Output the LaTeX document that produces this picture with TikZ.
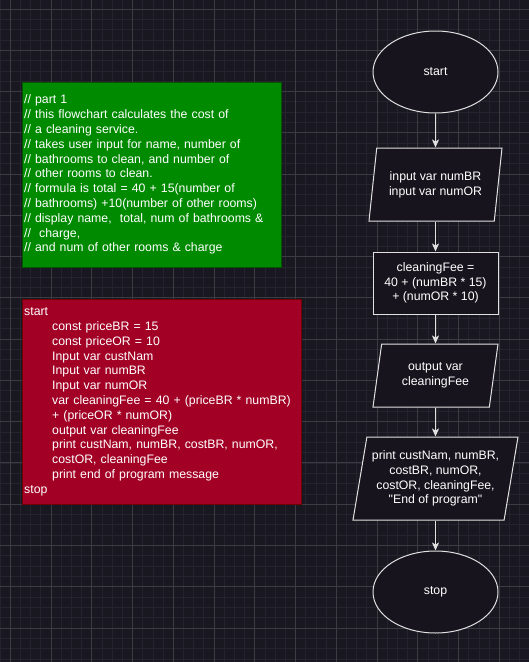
\documentclass[tikz,border=0pt]{standalone}
\usepackage{fontspec}
\setmainfont{Liberation Sans}[Ligatures=TeXOff]
\usetikzlibrary{arrows.meta,shapes.geometric}

\definecolor{canvas}{RGB}{25,23,32}
\definecolor{gridmin}{RGB}{37,35,45}
\definecolor{gridmaj}{RGB}{60,58,67}
\definecolor{cmtgreen}{RGB}{0,138,0}
\definecolor{cmtedge}{RGB}{0,87,0}
\definecolor{codered}{RGB}{162,0,37}
\definecolor{codeedge}{RGB}{111,0,0}
\definecolor{shapefill}{RGB}{24,20,29}
\definecolor{shapeline}{RGB}{225,225,225}

\newcommand{\codeind}{\hspace*{28pt}}

\begin{document}
\begin{tikzpicture}[
    x=1pt, y=-1pt,
    font=\fontsize{12.3}{14.8}\selectfont,
    gridminor/.style={gridmin, line width=0.8pt},
    gridmajor/.style={gridmaj, line width=1pt},
    cmt/.style={draw=cmtedge, fill=cmtgreen, text=white, align=left,
                anchor=north west, inner xsep=2pt, inner ysep=0pt},
    code/.style={draw=codeedge, fill=codered, text=white, align=left,
                 anchor=north west, inner xsep=2pt, inner ysep=0pt},
    term/.style={ellipse, draw=shapeline, fill=shapefill, text=white,
                 line width=1pt, minimum width=125pt, minimum height=82pt},
    io/.style={trapezium, trapezium stretches body=true, draw=shapeline,
               fill=shapefill, text=white, align=center, inner sep=1pt,
               line width=1pt},
    proc/.style={rectangle, draw=shapeline, fill=shapefill, text=white,
                 align=center, line width=1pt, minimum width=125pt,
                 minimum height=62pt},
    flow/.style={->, >={Stealth[length=8pt, width=7pt, inset=2pt]},
                 shapeline, line width=1pt},
  ]

  % ============================== Canvas ==================================
  \useasboundingbox (0,0) rectangle (529,662);
  \fill[canvas] (0,0) rectangle (529,662);
  \foreach \i in {0,...,52}
    \draw[gridminor] ({0.11+\i*10.1875},0) -- ++(0,662);
  \foreach \j in {0,...,64}
    \draw[gridminor] (0,{-1.32+\j*10.3175}) -- ++(529,0);
  \foreach \i in {0,...,12}
    \draw[gridmajor] ({10.3+\i*40.75},0) -- ++(0,662);
  \foreach \j in {0,...,15}
    \draw[gridmajor] (0,{9+\j*41.27}) -- ++(529,0);

  % ============================== Comments ================================
  \node[cmt, minimum width=259pt, minimum height=185pt, text width=255pt]
    (comments) at (22,82) {%
    // part 1\\
    // this flowchart calculates the cost of\\
    // a cleaning service.\\
    // takes user input for name, number of\\
    // bathrooms to clean, and number of\\
    // other rooms to clean.\\
    // formula is total = 40 + 15(number of\\
    // bathrooms) +10(number of other rooms)\\
    // display name, \ total, num of bathrooms \&\\
    //\ \ charge,\\
    // and num of other rooms \& charge};

  % ============================== Pseudocode ==============================
  \node[code, minimum width=279pt, minimum height=205pt, text width=275pt]
    (pseudo) at (22,299) {%
    start\\
    \codeind const priceBR = 15\\
    \codeind const priceOR = 10\\
    \codeind Input var custNam\\
    \codeind Input var numBR\\
    \codeind Input var numOR\\
    \codeind var cleaningFee = 40 + (priceBR * numBR)\\
    \codeind + (priceOR * numOR)\\
    \codeind output var cleaningFee\\
    \codeind print custNam, numBR, costBR, numOR,\\
    \codeind costOR, cleaningFee\\
    \codeind print end of program message\\
    stop};

  % ============================== Flowchart ===============================
  \node[term] (start) at (435.5,72) {start};
  \node[io, trapezium left angle=74.7, trapezium right angle=105.3,
        minimum width=133pt, minimum height=73pt] (inp) at (435.5,184.5)
    {input var numBR\\input var numOR};
  \node[proc] (fee) at (435.5,283)
    {cleaningFee =\\40 + (numBR * 15)\\ + (numOR * 10)};
  \node[io, trapezium left angle=72.4, trapezium right angle=107.6,
        minimum width=125pt, minimum height=63pt] (outp) at (435.5,375.5)
    {output var\\cleaningFee};
  \node[io, trapezium left angle=76.5, trapezium right angle=103.5,
        minimum width=165pt, minimum height=83pt] (prnt) at (435.5,478.5)
    {print custNam, numBR,\\costBR, numOR,\\costOR, cleaningFee,\\"End of program"};
  \node[term] (stop) at (435.5,592) {stop};

  \foreach \a/\b in {start/inp, inp/fee, fee/outp, outp/prnt, prnt/stop}
    \draw[flow] (\a) -- (\b);
\end{tikzpicture}
\end{document}
